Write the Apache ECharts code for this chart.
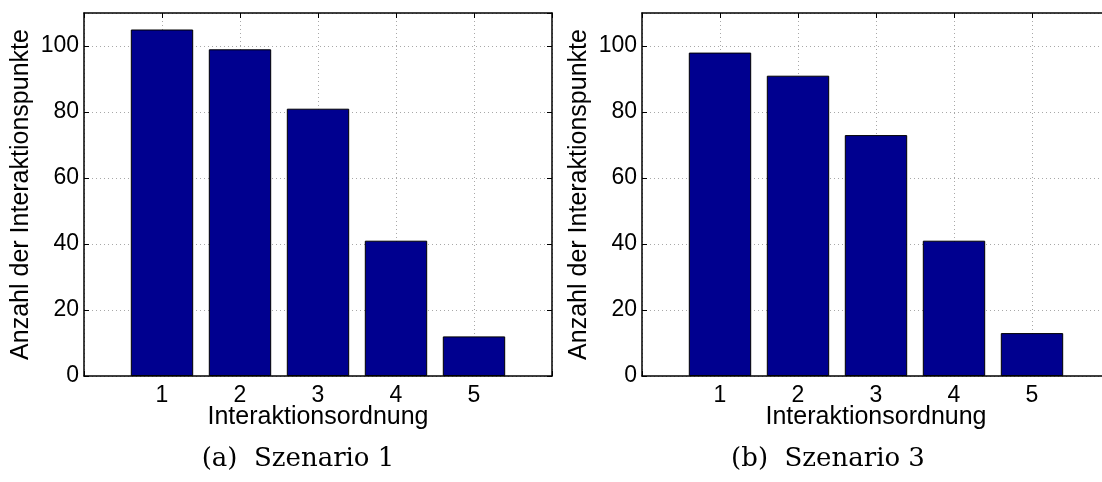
<!DOCTYPE html>
<html>
<head>
<meta charset="utf-8">
<script src="https://cdn.jsdelivr.net/npm/echarts@6/dist/echarts.min.js"></script>
<style>
  html, body { margin: 0; padding: 0; background: #fff; }
  #main { width: 1102px; height: 482px; }
</style>
</head>
<body>
<div id="main"></div>
<script>
// Interaktionsordnung 1..5
var orders = [1, 2, 3, 4, 5];
// Anzahl der Interaktionspunkte
var szenario1 = [105, 99, 81, 41, 12];
var szenario3 = [98, 91, 73, 41, 13];
var captions = ['(a)  Szenario 1', '(b)  Szenario 3'];
var xMin = 0, xMax = 6;
var yMin = 0, yMax = 110, yStep = 20;

var sans = 'Liberation Sans';
var gridLine = { show: true, lineStyle: { color: '#a8a8a8', type: [1, 3], width: 1 } };
var boxLine = { show: true, onZero: false, lineStyle: { color: '#000', width: 1.5 } };
var tickIn = { show: true, inside: true, length: 5, lineStyle: { color: '#000', width: 1 } };

// rechtes Panel läuft über den Bildrand hinaus (wie im Original)
var grids = [
    { left: 84, top: 13, width: 468, height: 363, outerBoundsMode: 'none', containLabel: false },
    { left: 642, top: 13, width: 468, height: 363, outerBoundsMode: 'none', containLabel: false }
];
var xAxes = [], yAxes = [], series = [];

function addPanel(g, values) {
    // unten
    xAxes.push({
        type: 'value', gridIndex: g, position: 'bottom',
        min: xMin, max: xMax, interval: 1,
        axisLine: boxLine, axisTick: tickIn, splitLine: gridLine,
        axisLabel: {
            margin: 8, color: '#000', fontFamily: sans, fontSize: 23,
            formatter: function (v) { return (v < 1 || v > 5) ? '' : v; }
        },
        name: 'Interaktionsordnung', nameLocation: 'middle', nameGap: 29, nameMoveOverlap: false,
        nameTextStyle: { color: '#000', fontFamily: sans, fontSize: 25 }
    });
    // oben (Rahmen)
    xAxes.push({
        type: 'value', gridIndex: g, position: 'top',
        min: xMin, max: xMax, interval: 1,
        axisLine: boxLine, axisTick: tickIn,
        axisLabel: { show: false }, splitLine: { show: false }
    });
    yAxes.push({
        type: 'value', gridIndex: g, position: 'left',
        min: yMin, max: yMax, interval: yStep,
        axisLine: boxLine, axisTick: tickIn, splitLine: gridLine,
        axisLabel: { margin: 5, showMaxLabel: false, color: '#000', fontFamily: sans, fontSize: 23 },
        name: 'Anzahl der Interaktionspunkte', nameLocation: 'middle', nameGap: 50, nameMoveOverlap: false,
        nameTextStyle: { color: '#000', fontFamily: sans, fontSize: 25 }
    });
    yAxes.push({
        type: 'value', gridIndex: g, position: 'right',
        min: yMin, max: yMax, interval: yStep,
        axisLine: boxLine, axisTick: tickIn,
        axisLabel: { show: false }, splitLine: { show: false }
    });
    series.push({
        type: 'bar',
        xAxisIndex: g * 2, yAxisIndex: g * 2,
        barWidth: '80%',
        data: orders.map(function (o, i) { return [o, values[i]]; }),
        itemStyle: { color: '#00008f', borderColor: '#000', borderWidth: 1 }
    });
}

addPanel(0, szenario1);
addPanel(1, szenario3);

var myChart = echarts.init(document.getElementById('main'));
myChart.setOption({
    animation: false,
    grid: grids,
    xAxis: xAxes,
    yAxis: yAxes,
    series: series,
    graphic: [
        { type: 'text', x: 298, y: 459,
          style: { text: captions[0], fill: '#000', fontFamily: 'DejaVu Serif', fontSize: 26, align: 'center', verticalAlign: 'middle' } },
        { type: 'text', x: 828, y: 459,
          style: { text: captions[1], fill: '#000', fontFamily: 'DejaVu Serif', fontSize: 26, align: 'center', verticalAlign: 'middle' } }
    ]
});
</script>
</body>
</html>
